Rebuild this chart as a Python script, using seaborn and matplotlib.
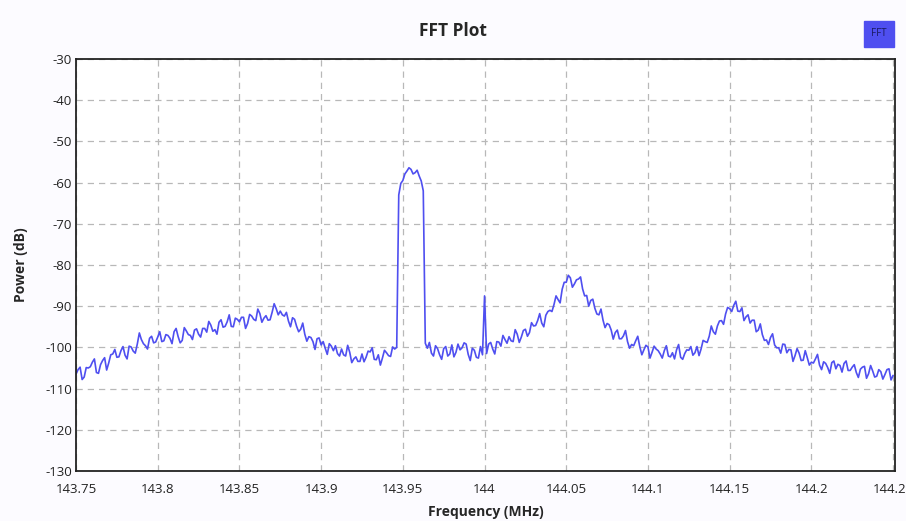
import numpy as np
import pandas as pd
import seaborn as sns
import matplotlib
matplotlib.use('Agg')
import matplotlib.pyplot as plt

# FFT bins: 143.75 MHz start, 2.5 kHz per bin (plus the half-bin readings in between)
freq_start = 143.75
freq_step = 0.0025

# power readings (dB) at the full bins
power_db = [
    -106.5, -104.8, -107.2, -105.0, -103.6, -106.1, -104.2, -102.5, -103.8, -101.6,
    -102.4, -100.8, -101.9, -99.7, -100.9, -99.2, -98.1, -99.6, -97.8, -98.9,
    -97.5, -98.6, -96.9, -97.8, -96.2, -97.4, -98.3, -96.0, -97.1, -95.8,
    -96.8, -95.4, -96.3, -94.6, -95.7, -93.9, -95.1, -93.8, -94.9, -92.9,
    -93.8, -92.7, -94.2, -92.4, -93.5, -91.8, -92.9, -93.4, -91.5, -90.6,
    -91.2, -92.4, -93.6, -92.8, -94.9, -95.6, -96.8, -97.4, -98.6, -97.9,
    -99.4, -100.2, -99.1, -100.8, -101.5, -100.4, -102.1, -101.2, -102.8, -103.4,
    -101.6, -102.4, -101.1, -102.9, -101.8, -102.6, -101.3, -102.2, -100.4, -63.0,
    -59.5, -57.2, -56.8, -57.6, -58.4, -62.0, -100.2, -101.4, -99.6, -101.8,
    -100.3, -102.1, -99.4, -101.2, -100.6, -98.9, -101.7, -100.2, -102.4, -99.8,
    -87.5, -99.2, -100.4, -98.6, -99.7, -98.1, -97.4, -98.6, -96.8, -97.5,
    -95.6, -96.4, -94.8, -93.5, -94.1, -92.2, -91.0, -89.6, -88.4, -85.9,
    -84.2, -83.1, -84.6, -83.4, -85.8, -87.4, -88.6, -90.5, -92.1, -93.4,
    -94.2, -95.8, -96.4, -97.9, -97.2, -98.6, -99.3, -98.4, -99.8, -100.6,
    -99.9, -101.2, -100.4, -101.6, -100.8, -102.1, -101.3, -100.6, -102.4, -101.5,
    -100.7, -101.9, -99.8, -100.4, -98.6, -97.3, -96.2, -94.8, -93.5, -91.9,
    -90.6, -89.8, -91.2, -90.4, -92.6, -94.1, -93.4, -95.8, -96.9, -98.2,
    -97.6, -99.4, -100.1, -99.2, -101.3, -100.6, -102.0, -101.4, -103.1, -102.5,
    -103.6, -102.8, -104.3, -103.5, -104.9, -103.7, -105.2, -104.4, -103.9, -105.6,
    -104.8, -106.1, -105.3, -104.6, -106.4, -105.7, -107.0, -105.9, -106.6, -105.2,
    -106.8,
]

# power readings (dB) half a bin after each full bin
power_db_mid = [
    -105.4, -107.8, -104.9, -104.7, -102.8, -106.3, -103.2, -105.5, -101.8, -100.5,
    -102.3, -99.8, -102.8, -99.9, -101.4, -96.5, -99.1, -100.4, -97.3, -98.7,
    -96.2, -98.4, -97.1, -99.1, -95.4, -98.9, -95.2, -96.9, -98.1, -95.5,
    -97.5, -95.4, -93.7, -96.1, -96.8, -93.3, -94.9, -92.1, -95.0, -93.2,
    -92.7, -95.4, -92.0, -93.2, -90.7, -93.9, -92.3, -93.3, -89.4, -92.1,
    -92.1, -91.5, -95.0, -93.2, -96.2, -94.1, -98.5, -97.6, -100.5, -97.7,
    -98.6, -101.7, -99.7, -99.6, -102.1, -101.8, -99.5, -103.7, -102.3, -103.4,
    -103.5, -100.9, -100.1, -103.0, -104.3, -100.7, -102.0, -99.9, -100.0, -60.2,
    -57.9, -56.4, -57.9, -57.0, -59.6, -99.0, -98.8, -102.1, -100.3, -102.9,
    -99.8, -101.6, -102.3, -99.2, -100.1, -99.2, -103.2, -100.7, -102.6, -101.8,
    -101.5, -98.8, -101.6, -98.7, -97.1, -99.0, -98.4, -95.7, -98.8, -95.9,
    -97.3, -94.0, -94.7, -91.8, -95.0, -91.3, -91.3, -87.5, -89.2, -84.2,
    -82.5, -85.4, -83.6, -82.9, -87.5, -90.0, -88.3, -91.9, -90.7, -95.2,
    -94.5, -98.0, -95.8, -97.9, -95.9, -100.2, -99.6, -97.3, -101.8, -99.5,
    -102.6, -99.7, -100.8, -102.6, -99.6, -102.3, -102.8, -99.3, -102.9, -100.6,
    -99.8, -101.3, -102.0, -98.3, -98.8, -94.8, -96.8, -93.6, -94.4, -90.3,
    -91.3, -88.8, -91.3, -93.5, -92.1, -93.4, -96.2, -94.3, -98.3, -99.3,
    -96.7, -100.1, -101.4, -99.3, -100.5, -103.4, -100.3, -103.2, -100.8, -104.3,
    -103.8, -101.7, -105.4, -103.9, -106.3, -103.3, -104.1, -106.0, -103.3, -105.6,
    -104.2, -107.3, -104.8, -107.5, -104.4, -107.2, -105.4, -107.7, -105.4, -107.9,
]

x_ticks = [143.75, 143.8, 143.85, 143.9, 143.95, 144.0, 144.05, 144.1, 144.15, 144.2, 144.25]
x_labels = ['143.75', '143.8', '143.85', '143.9', '143.95', '144', '144.05', '144.1', '144.15', '144.2', '144.25']
y_ticks = [-30, -40, -50, -60, -70, -80, -90, -100, -110, -120, -130]

# interleave full-bin and half-bin readings
power_all = []
for i, p in enumerate(power_db):
    power_all.append(p)
    if i < len(power_db_mid):
        power_all.append(power_db_mid[i])
freq = freq_start + (freq_step / 2) * np.arange(len(power_all))
df = pd.DataFrame({'Frequency (MHz)': freq, 'Power (dB)': power_all})

sns.set_style('white')
plt.rcParams['font.family'] = ['Open Sans', 'DejaVu Sans']
plt.rcParams['axes.unicode_minus'] = False

fig = plt.figure(figsize=(9.06, 5.21), dpi=100, facecolor='#fcfbff')
ax = fig.add_axes([0.0839, 0.096, 0.9040, 0.7908])
ax.set_facecolor('white')

sns.lineplot(data=df, x='Frequency (MHz)', y='Power (dB)', ax=ax,
             color='#4f4ff0', linewidth=1.2)

ax.set_xlim(143.75, 144.2512)
ax.set_ylim(-130, -30)
ax.set_xticks(x_ticks)
ax.set_xticklabels(x_labels)
ax.set_yticks(y_ticks)
ax.tick_params(axis='both', labelsize=9.5, colors='#222222', length=0, pad=3)
ax.tick_params(axis='x', pad=9)

ax.grid(True, linestyle=(0, (5, 4)), color='#b8b8b8', linewidth=0.9)
for s in ax.spines.values():
    s.set_color('#222222')
    s.set_linewidth(1.3)

ax.set_xlabel('Frequency (MHz)', fontsize=10, fontweight='bold', labelpad=6)
ax.set_ylabel('Power (dB)', fontsize=10, fontweight='bold', labelpad=12)

fig.text(0.5, 0.94, 'FFT Plot', ha='center', va='center', fontsize=12.5, fontweight='bold')
fig.text(0.9705, 0.935, 'FFT', ha='center', va='center', fontsize=7, color='#1a1a60',
         bbox=dict(boxstyle='square,pad=0.75', facecolor='#4f4ff0', edgecolor='#4f4ff0'))

fig.savefig('out.png', dpi=100, facecolor=fig.get_facecolor())
